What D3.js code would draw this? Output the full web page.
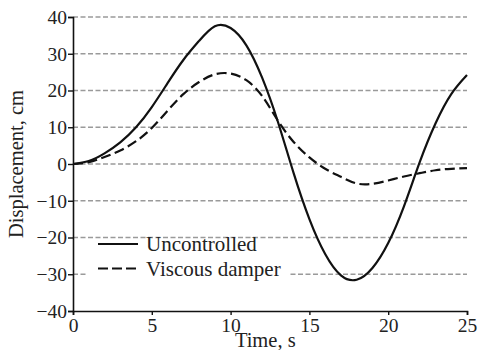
<!DOCTYPE html>
<html>
<head>
<meta charset="utf-8">
<script src="https://cdn.jsdelivr.net/npm/d3@7"></script>
<style>
  body { margin: 0; background: #fff; }
  text { font-family: "Liberation Serif", "DejaVu Serif", serif; fill: #222; }
</style>
</head>
<body>
<div id="chart"></div>
<script>
// values
var time = [0, 1, 2, 3, 4, 5, 6, 7, 8, 9, 10, 11, 12, 13, 14, 15, 16, 17, 18, 19, 20, 21, 22, 23, 24, 25];
var uncontrolled = [0, 0.8, 2.9, 5.9, 10, 15.5, 22, 28.3, 33.5, 37.5, 37.0, 32.3, 23.5, 11.5, -2.5, -15, -24.5, -30.3, -31.5, -28.3, -21.5, -11.5, 0.5, 11, 19, 24.2];
var viscous = [0, 0.5, 1.9, 3.7, 6.2, 9.8, 14.5, 19, 22.3, 24.4, 24.6, 22.8, 18.5, 11.8, 6, 1.8, -1.3, -3.5, -5.3, -5.4, -4.5, -3.4, -2.5, -1.7, -1.3, -1.1];
var seriesNames = ['Uncontrolled', 'Viscous damper'];
var yTicks = [-40, -30, -20, -10, 0, 10, 20, 30, 40];
var xTicks = [0, 5, 10, 15, 20, 25];

var margin = { top: 17, right: 11, bottom: 39, left: 73 },
  width = 478 - margin.left - margin.right,
  height = 350 - margin.top - margin.bottom;

var svg = d3.select('#chart')
  .append('svg')
  .attr('width', 478)
  .attr('height', 350)
  .append('g')
  .attr('transform', 'translate(' + margin.left + ',' + margin.top + ')');

var x = d3.scaleLinear().domain([0, 25]).range([0, width]);
var y = d3.scaleLinear().domain([-40, 40]).range([height, 0]);

// dashed grid
svg.append('g')
  .selectAll('line')
  .data(yTicks.filter(d => d > -40))
  .enter()
  .append('line')
  .attr('x1', 0)
  .attr('x2', width)
  .attr('y1', d => y(d))
  .attr('y2', d => y(d))
  .style('stroke', '#9a9a9a')
  .style('stroke-width', 1.6)
  .style('stroke-dasharray', '5,2.5');

// axes
var yAxis = svg.append('g')
  .call(d3.axisLeft(y).tickValues(yTicks).tickSize(5).tickPadding(1).tickFormat(d => d < 0 ? '\u2212' + Math.abs(d) : d));
var xAxis = svg.append('g')
  .attr('transform', 'translate(0,' + height + ')')
  .call(d3.axisBottom(x).tickValues(xTicks).tickSize(4).tickPadding(3));

[yAxis, xAxis].forEach(function (a) {
  a.select('.domain').style('stroke', '#111').style('stroke-width', 1.6);
  a.selectAll('.tick line').style('stroke', '#111').style('stroke-width', 1.4);
  a.selectAll('text').style('font-size', '19.5px').style('font-family', '"Liberation Serif", serif').style('fill', '#222');
});

// legend box (covers grid)
var legend = svg.append('g');
legend.append('rect')
  .attr('x', 15)
  .attr('y', y(-22.2))
  .attr('width', 202)
  .attr('height', y(-37.5) - y(-22.2))
  .style('fill', '#fff');

var line = d3.line()
  .x((d, i) => x(time[i]))
  .y(d => y(d))
  .curve(d3.curveNatural);

svg.append('path')
  .datum(uncontrolled)
  .attr('d', line)
  .style('fill', 'none')
  .style('stroke', '#111')
  .style('stroke-width', 2.2);

svg.append('path')
  .datum(viscous)
  .attr('d', line)
  .style('fill', 'none')
  .style('stroke', '#111')
  .style('stroke-width', 2.2)
  .style('stroke-dasharray', '10,4.5');

var rows = legend.selectAll('.row')
  .data(seriesNames)
  .enter()
  .append('g')
  .attr('transform', (d, i) => 'translate(0,' + (244 - margin.top + i * 24.5) + ')');

rows.append('line')
  .attr('x1', 25)
  .attr('x2', 65)
  .style('stroke', '#111')
  .style('stroke-width', 2.2)
  .style('stroke-dasharray', (d, i) => i === 0 ? null : '10,4');

rows.append('text')
  .attr('x', 73)
  .attr('y', 7)
  .style('font-size', '21px')
  .text(d => d);

// axis titles
svg.append('text')
  .attr('transform', 'rotate(-90)')
  .attr('x', -(y(0)))
  .attr('y', -margin.left + 23)
  .style('text-anchor', 'middle')
  .style('font-size', '20.5px')
  .text('Displacement, cm');

svg.append('text')
  .attr('x', x(12.2))
  .attr('y', height + 36)
  .style('text-anchor', 'middle')
  .style('font-size', '20.5px')
  .text('Time, s');
</script>
</body>
</html>
